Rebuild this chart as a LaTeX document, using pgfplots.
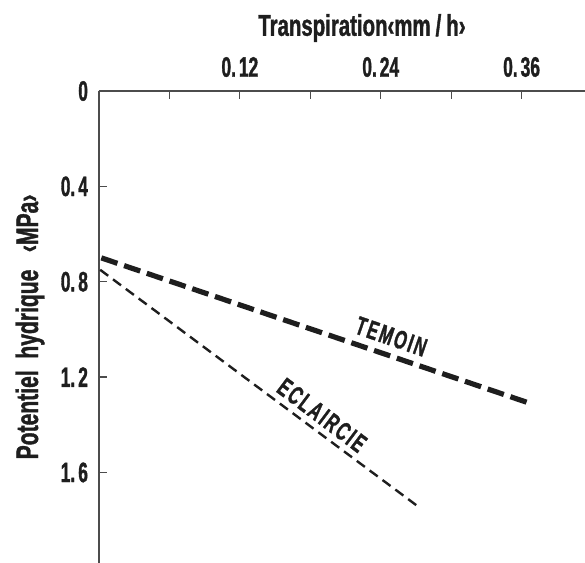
\documentclass[border=0pt]{standalone}
\usepackage{pgfplots}
\pgfplotsset{compat=1.18}
\usepackage{fontspec}
\setmainfont{Liberation Sans}[FakeStretch=0.72]
\newfontfamily\heavy{Liberation Sans}[FakeStretch=0.62, BoldFeatures={FakeBold=1.2}]
\newfontfamily\heavylab{Liberation Sans}[FakeStretch=0.68, BoldFeatures={FakeBold=1.2}]
\newfontfamily\heavyls{Liberation Sans}[FakeStretch=0.62, LetterSpace=8, BoldFeatures={FakeBold=1.2}]
\definecolor{ink}{HTML}{1E1E1E}
\begin{document}
\begin{tikzpicture}
\begin{axis}[
  at={(0,0)}, anchor=north west, name=ax,
  width=243pt, height=236pt, scale only axis,
  xmin=0, xmax=0.414, ymin=0, ymax=1.98,
  y dir=reverse,
  axis x line*=top, axis y line*=left,
  axis line style={draw=black!70, line width=0.6pt},
  tick style={draw=black!70, line width=0.6pt},
  tick align=inside, major tick length=4pt,
  xtick={0.06,0.12,0.18,0.24,0.30,0.36},
  xticklabels={,0.\kern1.5pt12,,0.\kern1.5pt24,,0.\kern1.5pt36},
  ytick={0,0.4,0.8,1.2,1.6},
  yticklabels={0,0.\kern1.5pt4,0.\kern1.5pt8,1.\kern1.5pt2,1.\kern1.5pt6},
  tick label style={font=\heavy\bfseries\fontsize{14}{15}\selectfont, text=ink},
  xticklabel style={yshift=3.5pt},
  yticklabel style={xshift=-2pt},
  xlabel={Transpiration‹mm\,/\,h›},
  xlabel style={at={(axis description cs:0.541,1)}, anchor=center, yshift=31.5pt,
    font=\heavylab\bfseries\fontsize{15}{16}\selectfont, text=ink},
  ylabel={Potentiel\ \ hydrique\ \ \ ‹MPa›},
  ylabel style={at={(axis description cs:-0.142,0.5)}, anchor=center,
    font=\heavylab\bfseries\fontsize{15.5}{16}\selectfont, text=ink},
  clip=false,
]
\addplot[ink, line width=2.6pt, dash pattern=on 8.5pt off 3.5pt] coordinates {(0.002,0.70) (0.367,1.31)};
\addplot[ink, line width=1.2pt, dash pattern=on 5pt off 3pt] coordinates {(0.001,0.75) (0.271,1.74)};
\node[rotate=-19, font=\heavyls\bfseries\fontsize{13}{14}\selectfont, text=ink] at (axis cs:0.249,1.03) {TEMOIN};
\node[rotate=-37, font=\heavyls\bfseries\fontsize{13}{14}\selectfont, text=ink] at (axis cs:0.19,1.36) {ECLAIRCIE};
\end{axis}
\pgfresetboundingbox
\path[use as bounding box] (-49.5pt,45.5pt) rectangle (243pt,-236pt);
\end{tikzpicture}
\end{document}
